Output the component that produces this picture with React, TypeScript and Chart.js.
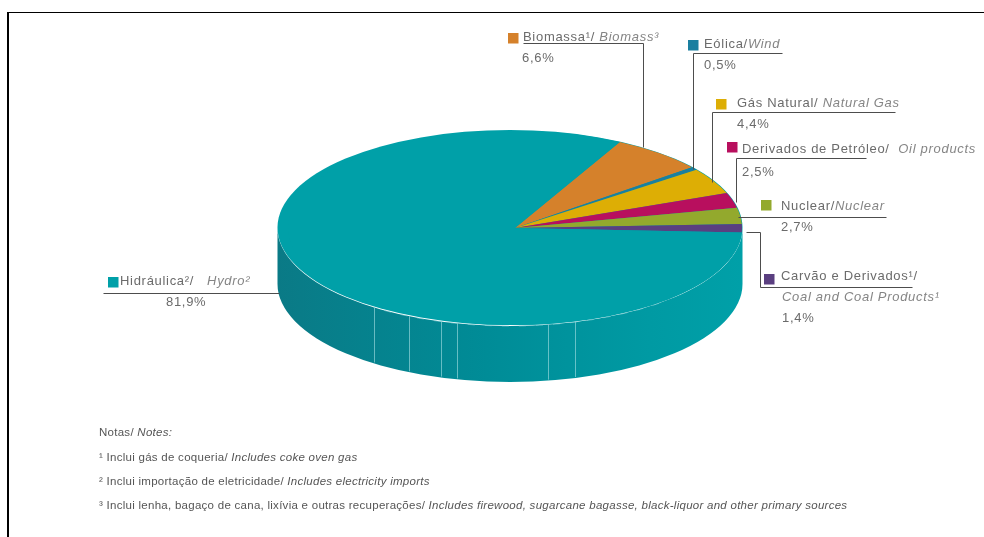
import React, { useEffect, useRef } from "react";
import { Chart, registerables } from "chart.js";

Chart.register(...registerables);

const categories = ["Biomassa", "Eólica", "Gás Natural", "Derivados de Petróleo", "Nuclear", "Carvão e Derivados", "Hidráulica"];
const shares = [6.6, 0.5, 4.4, 2.5, 2.7, 1.4, 81.9];
const sliceColors = ["#D5812B", "#1A7FA0", "#DDAE05", "#B80F5E", "#93A92D", "#5A3F80", "#00A0A8"];
const shareLabels = ["6,6%", "0,5%", "4,4%", "2,5%", "2,7%", "1,4%", "81,9%"];
const portugueseNames = ["Biomassa¹/ ", "Eólica/", "Gás Natural/ ", "Derivados de Petróleo/  ", "Nuclear/", "Carvão e Derivados¹/", "Hidráulica²/   "];
const englishNames = ["Biomass³", "Wind", "Natural Gas", "Oil products", "Nuclear", "Coal and Coal Products¹", "Hydro²"];
const noteLines = [
  ["Notas/ ", "Notes:"],
  ["¹ Inclui gás de coqueria/ ", "Includes coke oven gas"],
  ["² Inclui importação de eletricidade/ ", "Includes electricity imports"],
  ["³ Inclui lenha, bagaço de cana, lixívia e outras recuperações/ ", "Includes firewood, sugarcane bagasse, black-liquor and other primary sources"],
];

// Layout of the callouts: swatch box, label anchor, percent anchor and leader polyline.
const callouts = [
  { box: [508, 33], label: [523, 37], pct: [522, 58], leader: [[523, 43], [643, 43], [643, 147]] },
  { box: [688, 40], label: [704, 44], pct: [704, 65], leader: [[782, 53], [693, 53], [693, 169]] },
  { box: [716, 99], label: [737, 103], pct: [737, 124], leader: [[895, 112], [712, 112], [712, 182]] },
  { box: [727, 142], label: [742, 149], pct: [742, 172], leader: [[866, 158], [736, 158], [736, 202]] },
  { box: [761, 200], label: [781, 206], pct: [781, 227], leader: [[886, 217], [738, 217]] },
  { box: [764, 274], label: [781, 276], pct: [782, 318], leader: [[746, 232], [760, 232], [760, 287], [912, 287]] },
  { box: [108, 277], label: [120, 281], pct: [166, 302], leader: [[103, 293], [279, 293]] },
];
const notesY = [433, 458, 482, 506];
const NOTES_X = 99;

// Disc body: the wedges sit slightly right of the rim's centre, as the drawing is in perspective.
const DISC = { cx: 510, cy: 228, rx: 232.5, ry: 98, depth: 56 };
const FACE = { cx: 515, cy: 228, rx: 227, ry: 97 };
const sideFacets = [125.8, 115.7, 107.3, 103.2, 80.6, 73.7];

const SANS = '"Liberation Sans Narrow", "Liberation Sans", sans-serif';
const TEXT = "#6b6b6b";

const discBody = {
  id: "discBody",
  beforeDatasetsDraw(chart: any) {
    const { ctx } = chart;
    const { cx, cy, rx, ry, depth } = DISC;
    ctx.save();
    const grad = ctx.createLinearGradient(cx - rx, 0, cx + rx, 0);
    grad.addColorStop(0, "#0A7A86");
    grad.addColorStop(0.45, "#008C97");
    grad.addColorStop(0.8, "#009AA3");
    grad.addColorStop(1, "#00A0A8");
    ctx.fillStyle = grad;
    ctx.beginPath();
    ctx.ellipse(cx, cy, rx, ry, 0, 0, Math.PI);
    ctx.lineTo(cx - rx, cy + depth);
    ctx.ellipse(cx, cy + depth, rx, ry, 0, Math.PI, 0, true);
    ctx.closePath();
    ctx.fill();

    ctx.strokeStyle = "rgba(170,225,228,0.6)";
    ctx.lineWidth = 1;
    for (const deg of sideFacets) {
      const a = (deg * Math.PI) / 180;
      const x = Math.round(cx + rx * Math.cos(a)) + 0.5;
      const y = cy + ry * Math.sin(a);
      ctx.beginPath();
      ctx.moveTo(x, y);
      ctx.lineTo(x, y + depth - 1);
      ctx.stroke();
    }

    ctx.fillStyle = "#00A0A8";
    ctx.beginPath();
    ctx.ellipse(cx, cy - 0.5, rx, ry - 0.5, 0, 0, Math.PI * 2);
    ctx.fill();

    // Broken highlight along the front of the rim.
    ctx.setLineDash([7, 10]);
    ctx.strokeStyle = "rgba(150,215,220,0.55)";
    ctx.beginPath();
    ctx.ellipse(cx, cy, rx, ry, 0, (50 * Math.PI) / 180, (126 * Math.PI) / 180);
    ctx.stroke();
    ctx.setLineDash([]);

    // Flatten the circular arcs into the tilted face of the disc.
    const area = chart.chartArea;
    const mx = (area.left + area.right) / 2;
    const my = (area.top + area.bottom) / 2;
    ctx.restore();
    ctx.save();
    ctx.translate(FACE.cx, FACE.cy);
    ctx.scale(1, FACE.ry / FACE.rx);
    ctx.translate(-mx, -my);
  },
  afterDatasetsDraw(chart: any) {
    chart.ctx.restore();
  },
};

const callouts2d = {
  id: "callouts",
  afterDraw(chart: any) {
    const { ctx } = chart;
    ctx.save();
    ctx.textBaseline = "middle";
    callouts.forEach((c, i) => {
      ctx.fillStyle = sliceColors[i];
      ctx.fillRect(c.box[0], c.box[1], 10.5, 10.5);

      ctx.strokeStyle = "#4d4d4d";
      ctx.lineWidth = 1;
      ctx.beginPath();
      c.leader.forEach(([x, y], j) => (j ? ctx.lineTo(x + 0.5, y + 0.5) : ctx.moveTo(x + 0.5, y + 0.5)));
      ctx.stroke();

      ctx.fillStyle = TEXT;
      ctx.font = `13px ${SANS}`;
      ctx.letterSpacing = "0.7px";
      const pt = portugueseNames[i];
      ctx.fillText(pt, c.label[0], c.label[1]);
      const w = ctx.measureText(pt).width;
      ctx.font = `italic 13px ${SANS}`;
      ctx.fillStyle = "#858585";
      if (i === 5) {
        ctx.fillText(englishNames[i], c.label[0] + 1, c.label[1] + 21);
      } else {
        ctx.fillText(englishNames[i], c.label[0] + w, c.label[1]);
      }
      ctx.font = `13px ${SANS}`;
      ctx.fillStyle = TEXT;
      ctx.fillText(shareLabels[i], c.pct[0], c.pct[1]);
    });

    ctx.letterSpacing = "0.27px";
    noteLines.forEach(([pt, en], i) => {
      ctx.font = `11.5px ${SANS}`;
      ctx.fillStyle = "#555555";
      ctx.fillText(pt, NOTES_X, notesY[i]);
      const w = ctx.measureText(pt).width;
      ctx.font = `italic 11.5px ${SANS}`;
      ctx.fillText(en, NOTES_X + w, notesY[i]);
    });
    ctx.restore();
  },
};

export default function App() {
  const canvasRef = useRef<HTMLCanvasElement>(null);

  useEffect(() => {
    const chart = new Chart(canvasRef.current!, {
      type: "pie",
      data: {
        labels: categories,
        datasets: [{ data: shares, backgroundColor: sliceColors, borderWidth: 0 }],
      },
      options: {
        responsive: false,
        animation: false,
        rotation: 27.5,
        radius: FACE.rx,
        layout: { padding: 0 },
        plugins: { legend: { display: false }, tooltip: { enabled: false } },
      },
      plugins: [discBody, callouts2d],
    });
    return () => chart.destroy();
  }, []);

  return (
    <div
      style={{
        position: "fixed",
        left: 0,
        top: 0,
        width: 984,
        height: 537,
        background: "#fff",
        overflow: "hidden",
      }}
    >
      <canvas ref={canvasRef} width={984} height={537} style={{ position: "absolute", left: 0, top: 0 }} />
      <div
        style={{
          position: "absolute",
          left: 7,
          top: 12,
          width: 977,
          height: 525,
          borderTop: "1px solid #000",
          borderLeft: "2px solid #000",
          boxSizing: "border-box",
        }}
      />
    </div>
  );
}
